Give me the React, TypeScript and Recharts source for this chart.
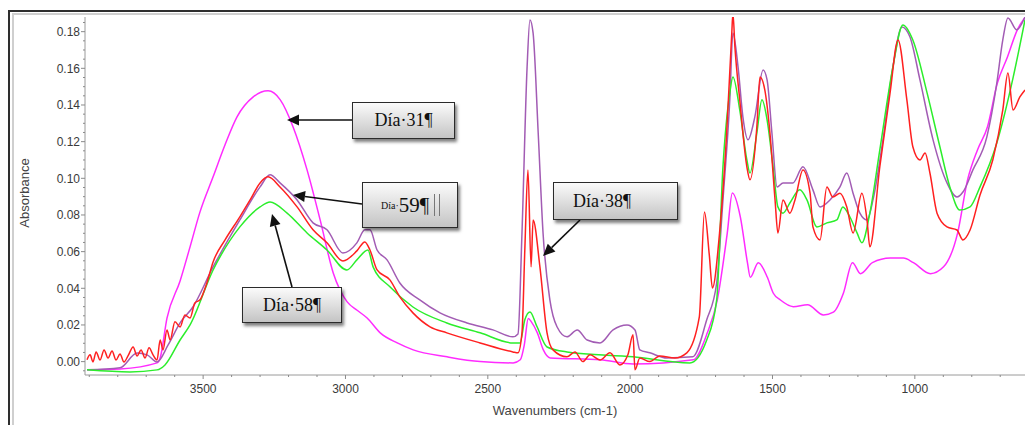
import { LineChart, Line, XAxis, YAxis } from "recharts"

type Pt = [number, number] // [wavenumber cm-1, absorbance]

// Día 31
const DIA_31: Pt[] = [
  [3908, -0.0045], [3792, -0.004], [3662, -0.0007], [3651, 0.002], [3627, 0.0237], [3581, 0.044],
  [3546, 0.0626], [3511, 0.0817], [3465, 0.1008], [3423, 0.1183], [3381, 0.1335], [3324, 0.1444],
  [3272, 0.1477], [3229, 0.1428], [3184, 0.128], [3135, 0.1046], [3089, 0.0773], [3043, 0.0484],
  [2994, 0.0326], [2959, 0.028], [2924, 0.0238], [2878, 0.0157], [2818, 0.0102], [2762, 0.0064],
  [2643, 0.0026], [2527, 0.0], [2411, -0.0007], [2386, 0.001], [2372, 0.009], [2358, 0.0235],
  [2347, 0.0217], [2326, 0.0157], [2305, 0.0064], [2281, 0.002], [2105, 0.001], [1989, -0.0013],
  [1778, 0.001], [1729, 0.0157], [1694, 0.0336], [1659, 0.07], [1641, 0.092], [1613, 0.079],
  [1588, 0.054], [1578, 0.046], [1550, 0.054], [1518, 0.046], [1497, 0.0373], [1472, 0.0336],
  [1427, 0.03], [1377, 0.031], [1321, 0.0255], [1286, 0.027], [1251, 0.0373], [1219, 0.054],
  [1191, 0.048], [1149, 0.054], [1086, 0.0565], [1040, 0.0565], [1005, 0.054], [945, 0.048],
  [899, 0.0517], [850, 0.07], [815, 0.099], [780, 0.1155], [745, 0.128], [710, 0.152],
  [675, 0.166], [640, 0.181], [612, 0.188],
]

// Día 38
const DIA_38: Pt[] = [
  [3908, -0.0045], [3792, -0.0034], [3732, 0.0047], [3697, 0.0037], [3662, -0.0002], [3623, 0.0091],
  [3581, 0.0211], [3536, 0.0298], [3465, 0.0517], [3371, 0.0773], [3300, 0.0953], [3265, 0.1019],
  [3230, 0.0975], [3170, 0.0882], [3114, 0.0757], [3065, 0.0719], [3009, 0.0593], [2960, 0.0648],
  [2932, 0.0719], [2914, 0.0719], [2889, 0.0609], [2854, 0.0555], [2809, 0.0429], [2739, 0.0337],
  [2668, 0.0266], [2573, 0.0211], [2482, 0.0173], [2412, 0.0135], [2394, 0.0151], [2380, 0.0702],
  [2362, 0.1608], [2352, 0.1864], [2341, 0.1793], [2323, 0.1247], [2306, 0.0702], [2282, 0.0337],
  [2257, 0.019], [2222, 0.0135], [2186, 0.0173], [2151, 0.0118], [2106, 0.0102], [2060, 0.0173],
  [2011, 0.02], [1983, 0.0173], [1966, 0.0064], [1931, 0.0048], [1871, 0.002], [1780, 0.0026],
  [1731, 0.0228], [1696, 0.0429], [1674, 0.0882], [1650, 0.1428], [1639, 0.1793], [1621, 0.1608],
  [1604, 0.1335], [1586, 0.121], [1562, 0.1335], [1533, 0.1591], [1519, 0.1537], [1502, 0.1247],
  [1484, 0.0953], [1463, 0.0975], [1428, 0.0975], [1393, 0.1063], [1358, 0.0937], [1333, 0.0844],
  [1298, 0.0882], [1263, 0.0953], [1239, 0.1029], [1217, 0.0919], [1193, 0.081], [1168, 0.0773],
  [1147, 0.0882], [1112, 0.121], [1077, 0.1608], [1045, 0.1826], [1017, 0.1771], [982, 0.1537],
  [936, 0.121], [887, 0.0975], [852, 0.0898], [831, 0.0925], [796, 0.1046], [747, 0.1226],
  [712, 0.152], [691, 0.1755], [673, 0.1875], [642, 0.181], [613, 0.188],
]

// Día 58
const DIA_58: Pt[] = [
  [3908, -0.0045], [3757, -0.0056], [3662, -0.0045], [3634, -0.0018], [3581, 0.0118], [3546, 0.02],
  [3465, 0.05], [3371, 0.0735], [3300, 0.0844], [3265, 0.0871], [3205, 0.081], [3135, 0.0702],
  [3065, 0.0609], [2995, 0.05], [2960, 0.0555], [2921, 0.0609], [2903, 0.0517], [2844, 0.0408],
  [2763, 0.0298], [2644, 0.0211], [2527, 0.0157], [2412, 0.0102], [2387, 0.0102], [2370, 0.0228],
  [2352, 0.0271], [2327, 0.019], [2292, 0.008], [2222, 0.0053], [1990, 0.0026], [1790, -0.0007],
  [1731, 0.0118], [1696, 0.0337], [1674, 0.1063], [1650, 0.1466], [1639, 0.1553], [1615, 0.1373],
  [1590, 0.11], [1579, 0.1029], [1555, 0.1247], [1537, 0.1428], [1519, 0.1319], [1498, 0.1063],
  [1481, 0.0844], [1463, 0.081], [1439, 0.0865], [1404, 0.0937], [1379, 0.0882], [1344, 0.0735],
  [1309, 0.0757], [1274, 0.0773], [1253, 0.0844], [1228, 0.0789], [1203, 0.0702], [1186, 0.0648],
  [1158, 0.081], [1123, 0.1155], [1077, 0.1608], [1042, 0.1837], [1007, 0.1755], [957, 0.1466],
  [912, 0.1172], [877, 0.0953], [842, 0.0827], [806, 0.0844], [771, 0.0953], [712, 0.1193],
  [655, 0.1548], [613, 0.1864],
]

// Día 59
const DIA_59: Pt[] = [
  [3908, 0.001], [3897, 0.0037], [3887, -0.0002], [3876, 0.0053], [3862, 0.0009], [3848, 0.0064],
  [3834, 0.002], [3820, 0.0058], [3806, 0.0009], [3792, 0.0042], [3778, -0.0002], [3764, 0.0031],
  [3746, 0.008], [3732, 0.0031], [3718, 0.0064], [3704, 0.002], [3690, 0.0075], [3676, 0.0037],
  [3662, 0.0009], [3651, 0.0118], [3641, 0.0064], [3627, 0.0173], [3616, 0.0118], [3599, 0.0217],
  [3581, 0.0189], [3564, 0.0255], [3546, 0.0238], [3529, 0.032], [3511, 0.0337], [3487, 0.0429],
  [3465, 0.0544], [3423, 0.0664], [3371, 0.079], [3335, 0.0882], [3300, 0.0975], [3272, 0.1008],
  [3230, 0.0953], [3170, 0.0844], [3114, 0.0719], [3065, 0.0648], [3009, 0.0549], [2960, 0.0604],
  [2932, 0.0653], [2914, 0.0609], [2889, 0.05], [2844, 0.0446], [2809, 0.0353], [2763, 0.0266],
  [2703, 0.019], [2644, 0.0157], [2527, 0.0102], [2412, 0.0053], [2394, 0.0048], [2380, 0.0157],
  [2370, 0.061], [2359, 0.1046], [2348, 0.0517], [2341, 0.0773], [2317, 0.0517], [2292, 0.0157],
  [2271, 0.0064], [2222, 0.0026], [2194, 0.0053], [2166, 0.0], [2141, 0.0037], [2106, 0.0009],
  [2071, 0.0048], [2036, -0.0018], [2008, 0.0037], [1990, 0.0146], [1983, -0.0045], [1966, 0.002],
  [1931, 0.0], [1896, 0.0031], [1843, 0.002], [1801, 0.0048], [1757, 0.0244], [1739, 0.0816],
  [1722, 0.0582], [1711, 0.0402], [1686, 0.0701], [1661, 0.1247], [1643, 0.1793], [1639, 0.19],
  [1632, 0.1717], [1615, 0.1428], [1590, 0.1063], [1579, 0.0992], [1555, 0.128], [1544, 0.1553],
  [1527, 0.1482], [1509, 0.1247], [1491, 0.0882], [1481, 0.0702], [1463, 0.0882], [1439, 0.081],
  [1421, 0.0882], [1393, 0.1046], [1368, 0.0919], [1358, 0.0735], [1333, 0.0664], [1309, 0.0953],
  [1288, 0.0898], [1263, 0.0919], [1239, 0.0844], [1217, 0.0702], [1186, 0.0919], [1168, 0.0773],
  [1158, 0.0626], [1123, 0.1063], [1087, 0.1466], [1059, 0.1755], [1028, 0.1428], [1007, 0.1172],
  [982, 0.11], [964, 0.1138], [947, 0.1029], [922, 0.081], [887, 0.0735], [852, 0.0718],
  [831, 0.0664], [806, 0.0718], [771, 0.0909], [726, 0.1101], [691, 0.1373], [673, 0.1575],
  [655, 0.1373], [631, 0.1444], [613, 0.1482],
]

const X_LABELS = [3500, 3000, 2500, 2000, 1500, 1000]
const Y_LABELS = [0, 0.02, 0.04, 0.06, 0.08, 0.1, 0.12, 0.14, 0.16, 0.18]

const X_DOMAIN: [number, number] = [613, 3915]
const Y_DOMAIN: [number, number] = [-0.0073, 0.188]

// minor ticks every 100 cm-1 and every 0.005 absorbance
const X_TICKS: number[] = []
for (let w = 700; w <= 3900; w += 100) X_TICKS.push(w)
const Y_TICKS: number[] = []
for (let i = -1; i <= 37; i++) Y_TICKS.push(+(i * 0.005).toFixed(3))

const SERIES = [
  { name: "Día 31", color: "#ff2bff", pts: DIA_31 },
  { name: "Día 38", color: "#a25cb4", pts: DIA_38 },
  { name: "Día 58", color: "#2bee2b", pts: DIA_58 },
  { name: "Día 59", color: "#ff2020", pts: DIA_59 },
]

const toRows = (pts: Pt[]) => pts.map(([w, a]) => ({ w, a }))

const AXIS_FONT = "'Liberation Sans', Arial, sans-serif"
const BOX_FONT = "'Liberation Serif', 'Times New Roman', serif"

function XTick(props: any) {
  const { x, y, payload } = props
  const major = X_LABELS.includes(payload.value)
  return (
    <g>
      <line x1={x} x2={x} y1={y - 9} y2={y - (major ? 5 : 7)} stroke="#8a8a8a" />
      {major && (
        <text x={x} y={y} dy="0.71em" textAnchor="middle" fontSize={12} fontFamily={AXIS_FONT} fill="#3a3a3a">
          {payload.value}
        </text>
      )}
    </g>
  )
}

function YTick(props: any) {
  const { x, y, payload } = props
  const v = payload.value as number
  const major = Y_LABELS.some((l) => Math.abs(l - v) < 1e-6)
  return (
    <g>
      <line x1={x + (major ? 1 : 3)} x2={x + 5} y1={y} y2={y} stroke="#8a8a8a" />
      {major && (
        <text x={x} y={y} dy="0.355em" textAnchor="end" fontSize={12} fontFamily={AXIS_FONT} fill="#3a3a3a">
          {v.toFixed(2)}
        </text>
      )}
    </g>
  )
}

function Arrow({ x1, y1, x2, y2 }: { x1: number; y1: number; x2: number; y2: number }) {
  const ang = Math.atan2(y2 - y1, x2 - x1)
  const len = 12
  const half = 5.5
  const bx = x2 - len * Math.cos(ang)
  const by = y2 - len * Math.sin(ang)
  const px = -Math.sin(ang) * half
  const py = Math.cos(ang) * half
  return (
    <g>
      <line x1={x1} y1={y1} x2={bx} y2={by} stroke="#111" strokeWidth={1.6} />
      <polygon points={`${x2},${y2} ${bx + px},${by + py} ${bx - px},${by - py}`} fill="#111" />
    </g>
  )
}

const boxStyle = (left: number, top: number, width: number, height: number): React.CSSProperties => ({
  position: "absolute",
  left,
  top,
  width,
  height,
  boxSizing: "border-box",
  border: "1px solid #2b2b2b",
  background: "linear-gradient(#fbfbfb, #c4c4c4)",
  boxShadow: "2px 3px 3px rgba(0,0,0,0.5)",
  fontFamily: BOX_FONT,
  color: "#111",
  display: "flex",
  alignItems: "center",
  justifyContent: "center",
  fontSize: 18,
})

export default function App() {
  return (
    <div style={{ position: "fixed", left: 0, top: 0, width: 1025, height: 425, overflow: "hidden", background: "#fff" }}>
      {/* window frame */}
      <div style={{ position: "absolute", left: 8, top: 10, width: 1100, height: 500, borderLeft: "2px solid #2e2e2e", borderTop: "2px solid #2e2e2e" }} />
      <div style={{ position: "absolute", left: 12, top: 13, width: 1100, height: 500, borderLeft: "2px solid #cfcfcf", borderTop: "2px solid #cfcfcf" }} />

      <div style={{ position: "absolute", left: 0, top: 0 }}>
        <LineChart width={1025} height={425} margin={{ top: 17, right: 0, bottom: 0, left: 25 }}>
          <XAxis
            dataKey="w"
            type="number"
            domain={X_DOMAIN}
            reversed
            allowDataOverflow
            ticks={X_TICKS}
            interval={0}
            height={50}
            tickSize={0}
            tickMargin={9}
            tickLine={false}
            axisLine={{ stroke: "#9a9a9a" }}
            tick={(p: any) => <XTick {...p} />}
          />
          <XAxis
            xAxisId="top"
            orientation="top"
            type="number"
            domain={X_DOMAIN}
            reversed
            allowDataOverflow
            height={0}
            tick={false}
            tickLine={false}
            axisLine={{ stroke: "#c4c4c4" }}
          />
          <YAxis
            type="number"
            domain={Y_DOMAIN}
            allowDataOverflow
            ticks={Y_TICKS}
            interval={0}
            width={60}
            tickSize={0}
            tickMargin={5}
            tickLine={false}
            axisLine={{ stroke: "#9a9a9a" }}
            tick={(p: any) => <YTick {...p} />}
          />
          {SERIES.map((s) => (
            <Line
              key={s.name}
              name={s.name}
              data={toRows(s.pts)}
              dataKey="a"
              type="monotone"
              stroke={s.color}
              strokeWidth={1.5}
              dot={false}
              activeDot={false}
              isAnimationActive={false}
            />
          ))}
        </LineChart>
      </div>

      {/* axis titles and callout arrows */}
      <svg width={1025} height={425} style={{ position: "absolute", left: 0, top: 0, pointerEvents: "none" }}>
        <text x={0} y={0} transform="translate(29,193) rotate(-90)" textAnchor="middle" fontSize={13} fontFamily={AXIS_FONT} fill="#444">
          Absorbance
        </text>
        <text x={555} y={415} textAnchor="middle" fontSize={13} fontFamily={AXIS_FONT} fill="#444">
          Wavenumbers (cm-1)
        </text>
        <Arrow x1={352} y1={120} x2={287} y2={120} />
        <Arrow x1={362} y1={204} x2={293} y2={195} />
        <Arrow x1={292} y1={287} x2={272} y2={214} />
        <Arrow x1={580} y1={220} x2={543} y2={256} />
      </svg>

      <div style={boxStyle(352, 102, 103, 37)}>Día·31¶</div>
      <div style={{ ...boxStyle(362, 182, 96, 46), justifyContent: "flex-start", paddingLeft: 18 }}>
        <span style={{ fontSize: 10 }}>Día·</span>
        <span style={{ fontSize: 21 }}>59¶</span>
        <span style={{ marginLeft: 5, width: 4, height: 22, borderLeft: "1px solid #777", borderRight: "1px solid #777" }} />
      </div>
      <div style={boxStyle(242, 287, 100, 36)}>Día·58¶</div>
      <div style={{ ...boxStyle(553, 182, 125, 38), justifyContent: "flex-start", paddingLeft: 19 }}>Día·38¶</div>
    </div>
  )
}
